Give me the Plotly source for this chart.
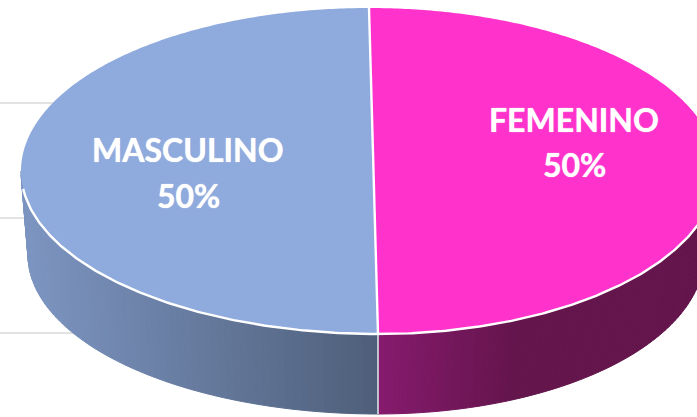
import numpy as np
import plotly.graph_objects as go

categories = ["FEMENINO", "MASCULINO"]
values = [50, 50]
percent_labels = ["50%", "50%"]
top_colors = ["#ff33cc", "#8faadc"]
side_start = ["#871b6e", "#4f5f7a"]   # shade next to the front seam
side_end = ["#64154c", "#7c94c0"]     # shade towards the outer end
grid_levels = [103, 218, 333]

W, H = 697, 417


def top_rim(t):
    """Rim of the pie's top face, seen in perspective (t in radians, math sense)."""
    t = np.atleast_1d(t)
    c, s = np.cos(t), np.sin(t)
    cx = np.where(s >= 0, 369.0, 378.0)
    ax = np.where(s >= 0, 348.0, np.where(c < 0, 357.0, 339.0))
    return cx + ax * c, 171.0 - 163.0 * s


def bottom_rim(t):
    t = np.atleast_1d(t)
    c, s = np.cos(t), np.sin(t)
    ax = np.where(c < 0, 350.0, 326.0)
    return 378.0 + ax * c, 255.0 - 159.0 * s


def hexrgb(h):
    return np.array([int(h[i:i + 2], 16) for i in (1, 3, 5)], float)


fig = go.Figure()

for lvl in grid_levels:
    fig.add_trace(go.Scatter(x=[0, 120], y=[lvl, lvl], mode="lines",
                             line=dict(color="#d9d9d9", width=1.3), hoverinfo="skip"))

# slice angles from the values (clockwise from the top)
total = sum(values)
shares = np.cumsum([0] + values) / total
starts = np.pi / 2 - 2 * np.pi * shares[:-1]
ends = np.pi / 2 - 2 * np.pi * shares[1:]

FRONT = -np.pi / 2
x_seam = float(top_rim(FRONT)[0][0])

# side wall: strips along the visible front of each slice
for i in range(len(values)):
    vis1 = 0.0 if i == 0 else -np.pi
    c0, c1 = hexrgb(side_start[i]), hexrgb(side_end[i])
    x_far = 520 if i == 0 else 30
    n = 70
    ts = np.linspace(FRONT, vis1, n + 1)
    for k in range(n):
        t = np.linspace(ts[k], ts[k + 1], 3)
        xt, yt = top_rim(t)
        xb, yb = bottom_rim(t)
        f = np.clip((xt.mean() - x_seam) / (x_far - x_seam), 0, 1)
        col = c0 + (c1 - c0) * f
        rgb = "rgb(%d,%d,%d)" % tuple(col)
        fig.add_trace(go.Scatter(
            x=np.r_[xt, xb[::-1], xt[0]], y=np.r_[yt, yb[::-1], yt[0]],
            mode="lines", fill="toself", fillcolor=rgb,
            line=dict(color=rgb, width=1), hoverinfo="skip"))

# front seam on the wall
tx, ty = top_rim(FRONT)
bx, by = bottom_rim(FRONT)
fig.add_trace(go.Scatter(x=[tx[0], bx[0]], y=[ty[0], by[0]], mode="lines",
                         line=dict(color="#e4e6ec", width=1.5), hoverinfo="skip"))

# top faces
for i, (s, e) in enumerate(zip(starts, ends)):
    t = np.linspace(s, e, 300)
    x, y = top_rim(t)
    fig.add_trace(go.Scatter(
        x=np.r_[x, x[0]], y=np.r_[y, y[0]], mode="none", fill="toself",
        fillcolor=top_colors[i], hoverinfo="skip", name=categories[i]))

# white rim along the front and the dividing line between slices
t = np.linspace(0.0, -np.pi * 0.965, 300)
x, y = top_rim(t)
fig.add_trace(go.Scatter(x=x, y=y, mode="lines",
                         line=dict(color="white", width=2.4), hoverinfo="skip"))
x, y = top_rim(np.array([starts[0], ends[0]]))
fig.add_trace(go.Scatter(x=x, y=y, mode="lines",
                         line=dict(color="white", width=2.4), hoverinfo="skip"))

label_pos = [(574, 119, 164), (188, 149, 195)]
for cat, pct, (lx, y1, y2) in zip(categories, percent_labels, label_pos):
    for txt, ly in ((cat, y1), (pct, y2)):
        fig.add_annotation(x=lx, y=ly, text=txt, showarrow=False,
                           font=dict(family="Lato", size=32, color="white", weight="bold",
                                     shadow="0 0 1px white"))

fig.update_layout(
    width=W, height=H, margin=dict(l=0, r=0, t=0, b=0), showlegend=False,
    paper_bgcolor="white", plot_bgcolor="white",
    xaxis=dict(range=[0, W], visible=False, fixedrange=True),
    yaxis=dict(range=[H, 0], visible=False, fixedrange=True),
)
fig.write_html("out.html", config={"displayModeBar": False},
               post_script="document.body.style.margin='0';document.body.style.overflow='hidden';")
